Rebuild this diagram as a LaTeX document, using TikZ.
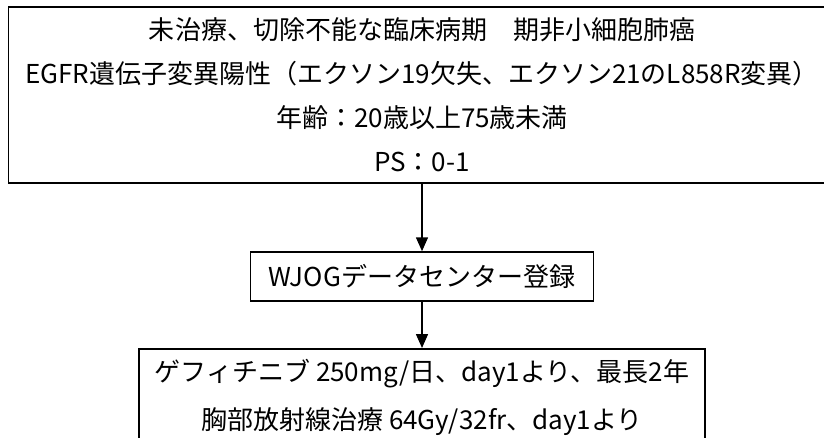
\documentclass[tikz,border=0pt]{standalone}
\usepackage{fontspec}
\setmainfont{Noto Sans CJK JP}
\usetikzlibrary{arrows.meta}
\begin{document}
\begin{tikzpicture}[x=1pt, y=1pt, >={Triangle[width=12pt,length=14pt]},
  box/.style={draw, line width=1.5pt, align=center, font=\fontsize{26}{44}\selectfont},
  flow/.style={->, line width=1.5pt}]
\clip (0,0) rectangle (824,437);
\node[box, minimum width=827pt, minimum height=176pt] (elig) at (422,342) {未治療、切除不能な臨床病期　期非小細胞肺癌\\EGFR遺伝子変異陽性（エクソン19欠失、エクソン21のL858R変異）\\年齢：20歳以上75歳未満\\PS：0-1};
\node[box, minimum width=343pt, minimum height=49pt] (reg) at (422,160.5) {WJOGデータセンター登録};
\node[box, anchor=north, minimum width=566pt, inner ysep=10pt, font=\fontsize{26}{48}\selectfont] (tx) at (422,89) {ゲフィチニブ 250mg/日、day1より、最長2年\\胸部放射線治療 64Gy/32fr、day1より};
\draw[flow] (elig) -- (reg);
\draw[flow] (reg) -- (tx);
\end{tikzpicture}
\end{document}
